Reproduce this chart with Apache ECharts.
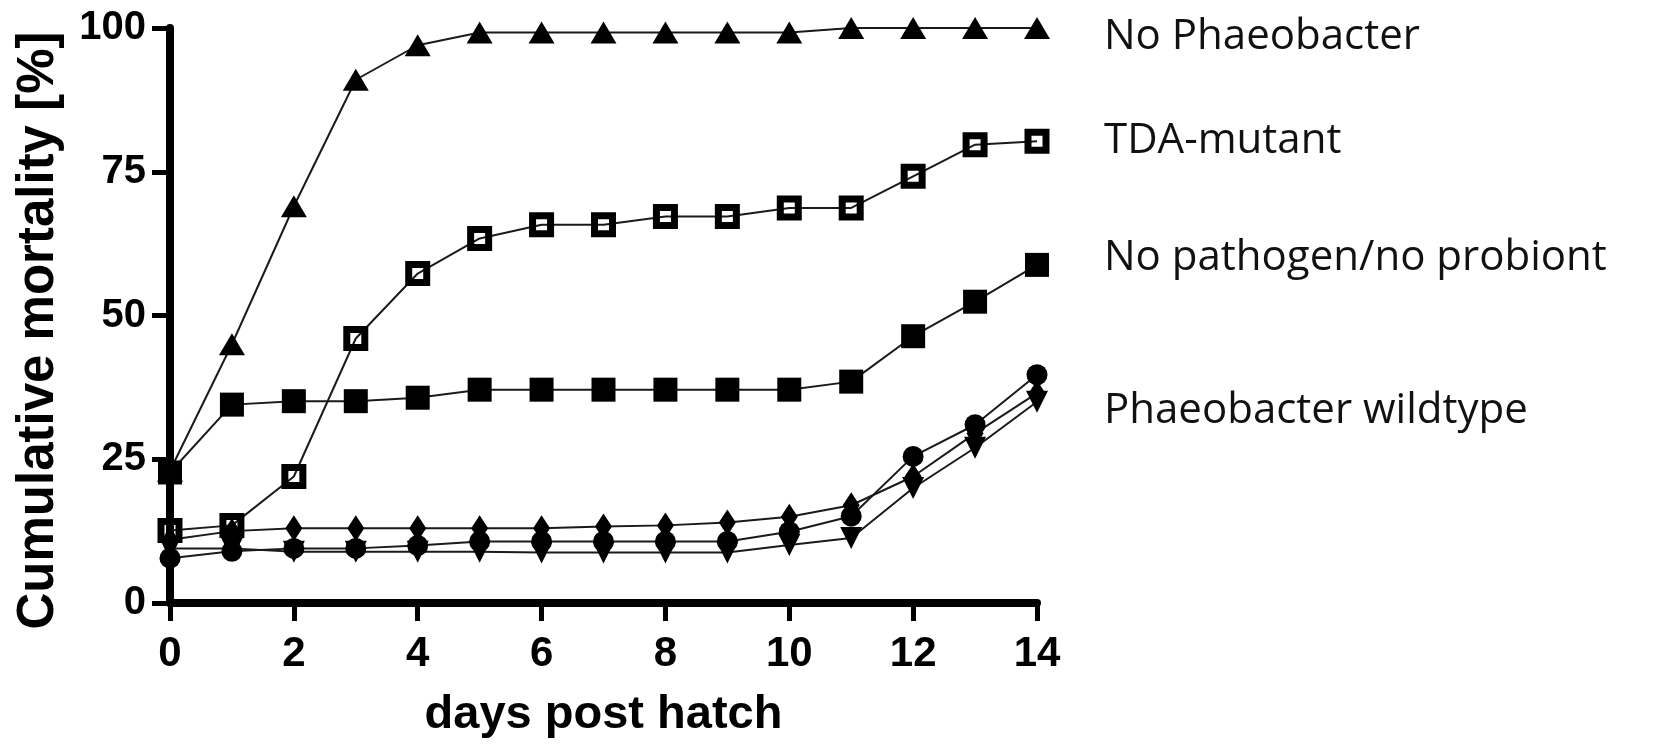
<!DOCTYPE html>
<html>
<head>
<meta charset="utf-8">
<script src="https://cdn.jsdelivr.net/npm/echarts@6/dist/echarts.min.js"></script>
<style>
html,body{margin:0;padding:0;background:#fff;}
#chart{width:1674px;height:744px;}
</style>
</head>
<body>
<div id="chart"></div>
<script>
// ---- data ----
const days = [0,1,2,3,4,5,6,7,8,9,10,11,12,13,14];
const xTicks = [0,2,4,6,8,10,12,14];
const yTicks = [0,25,50,75,100];
const xTitle = 'days post hatch';
const yTitle = 'Cumulative mortality [%]';
const groupLabels = ['No Phaeobacter','TDA-mutant','No pathogen/no probiont','Phaeobacter wildtype'];

const noPhaeobacter   = [23, 45, 69, 91, 97, 99.2, 99.2, 99.2, 99.2, 99.2, 99.2, 100, 100, 100, 100];
const tdaMutant       = [12.6, 13.5, 22, 46, 57.3, 63.4, 65.8, 65.8, 67.2, 67.2, 68.7, 68.7, 74.2, 79.7, 80.3];
const noPathogen      = [22.7, 34.5, 35.1, 35.1, 35.7, 37.1, 37.1, 37.1, 37.1, 37.1, 37.1, 38.5, 46.4, 52.4, 58.8];
const wildtypeDiamond = [11, 12.5, 13, 13, 13, 13, 13, 13.3, 13.5, 14, 15, 17, 22, 29.5, 36.5];
const wildtypeCircle  = [7.8, 9, 9.5, 9.5, 10, 10.7, 10.7, 10.7, 10.7, 10.7, 12.4, 15.1, 25.5, 31, 39.7];
const wildtypeTri     = [9.5, 9.5, 8.9, 8.9, 8.9, 8.9, 8.8, 8.8, 8.8, 8.8, 10.1, 11.3, 20, 27, 35];

// ---- chart ----
const pairs = vals => days.map((d, i) => [d, vals[i]]);
const lineStyle = { color: '#1a1a1a', width: 2 };
function mk(name, vals, symbol, size, extra) {
  return Object.assign({
    name: name, type: 'line', data: pairs(vals),
    symbol: symbol, symbolSize: size, showAllSymbol: true,
    lineStyle: lineStyle,
    itemStyle: { color: '#000' },
    emphasis: { disabled: true },
    z: 3
  }, extra || {});
}

const chart = echarts.init(document.getElementById('chart'), null, { renderer: 'canvas' });
const legendY = [46, 150, 267, 420];
chart.setOption({
  animation: false,
  backgroundColor: '#fff',
  grid: { left: 170, right: 637, top: 28, bottom: 141, containLabel: false, outerBoundsMode: 'none' },
  xAxis: {
    type: 'value', min: xTicks[0], max: xTicks[xTicks.length - 1], interval: xTicks[1] - xTicks[0],
    name: xTitle, nameLocation: 'middle', nameGap: 89,
    nameTextStyle: { fontFamily: 'Liberation Sans', fontWeight: 'bold', fontSize: 47, color: '#000' },
    axisLine: { lineStyle: { color: '#000', width: 8 }, onZero: false },
    axisTick: { show: true, length: 18, lineStyle: { color: '#000', width: 5 } },
    axisLabel: { fontFamily: 'Liberation Sans', fontWeight: 'bold', fontSize: 42, color: '#000', margin: 30 },
    splitLine: { show: false }
  },
  yAxis: {
    type: 'value', min: yTicks[0], max: yTicks[yTicks.length - 1], interval: yTicks[1] - yTicks[0],
    name: yTitle, nameLocation: 'middle', nameGap: 106,
    nameTextStyle: { fontFamily: 'Liberation Sans', fontWeight: 'bold', fontSize: 51, color: '#000', padding: [0, 30, 0, 0] },
    axisLine: { show: true, lineStyle: { color: '#000', width: 8 }, onZero: false },
    axisTick: { show: true, length: 18, lineStyle: { color: '#000', width: 5 } },
    axisLabel: { fontFamily: 'Liberation Sans', fontWeight: 'bold', fontSize: 40, color: '#000', margin: 24 },
    splitLine: { show: false }
  },
  graphic: groupLabels.map((t, i) => ({
    type: 'text', left: 1104, top: legendY[i] - 30,
    style: { text: t, font: '400 42px "Open Sans"', fill: '#111' }
  })),
  series: [
    mk('wildtype triangle', wildtypeTri, 'triangle', [22, 22], { symbolRotate: 180 }),
    mk('wildtype diamond', wildtypeDiamond, 'diamond', [17, 26]),
    mk('wildtype circle', wildtypeCircle, 'circle', 21),
    mk(groupLabels[1], tdaMutant, 'rect', 18, { itemStyle: { color: 'rgba(255,255,255,0)', borderColor: '#000', borderWidth: 7 } }),
    mk(groupLabels[2], noPathogen, 'rect', 24),
    mk(groupLabels[0], noPhaeobacter, 'triangle', [26, 22])
  ]
});
</script>
</body>
</html>
